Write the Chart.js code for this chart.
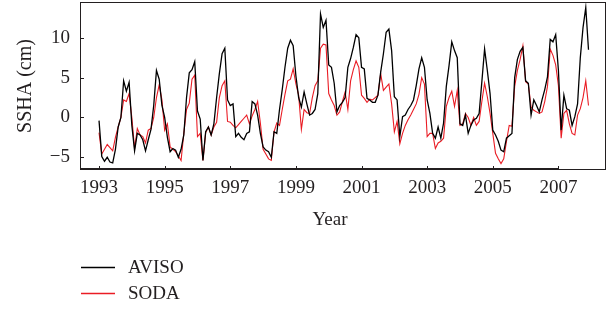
<!DOCTYPE html>
<html>
<head>
<meta charset="utf-8">
<script src="https://cdn.jsdelivr.net/npm/chart.js@4.4.0/dist/chart.umd.min.js"></script>
<style>
html,body{margin:0;padding:0;background:#fff;}
canvas{display:block;}
</style>
</head>
<body>
<canvas id="c" width="612" height="311"></canvas>
<script>
// ---- data (monthly, Jan 1993 .. Dec 2007) ----
const startYear = 1993;
const monthsPerYear = 12;
const seriesNames = ['AVISO', 'SODA'];
const aviso = [
  -0.4, -4.9, -5.5, -5.0, -5.6, -5.7, -4.0, -1.2, 0.0, 4.6, 3.3, 4.4,
  -1.0, -4.2, -2.0, -2.2, -2.8, -4.2, -2.8, -1.5, 1.5, 5.9, 4.8, 1.5,
  0.0, -2.5, -4.3, -3.9, -4.1, -5.0, -4.0, -2.2, 2.5, 5.6, 6.0, 7.0,
  0.8, -0.2, -5.4, -1.8, -1.2, -2.2, -0.8, 2.5, 5.5, 8.0, 8.7, 2.2,
  1.5, 1.7, -2.4, -2.0, -2.5, -2.8, -2.0, -1.8, 2.0, 1.7, 0.3, -2.0,
  -3.7, -4.1, -4.3, -5.0, -1.8, -2.0, 1.0, 3.5, 6.3, 8.7, 9.7, 9.0,
  5.2, 2.5, 1.3, 3.2, 1.7, 0.3, 0.5, 1.0, 3.0, 13.0, 11.3, 12.2,
  6.6, 6.3, 4.3, 0.7, 1.5, 1.9, 2.5, 6.3, 7.4, 8.8, 10.4, 10.0,
  6.3, 6.1, 2.4, 2.2, 1.9, 1.9, 2.8, 5.7, 8.0, 10.7, 11.1, 8.4,
  2.6, 2.2, -2.4, 0.1, 0.3, 1.0, 1.5, 2.2, 4.0, 6.1, 7.5, 6.3,
  2.2, 0.5, -2.0, -2.6, -1.2, -2.6, -0.7, 3.9, 6.5, 9.5, 8.4, 7.5,
  -0.8, -1.0, 0.3, -2.0, -1.0, -0.3, -0.1, 0.5, 4.5, 8.6, 5.9, 3.0,
  -1.6, -2.2, -3.0, -4.1, -4.3, -2.6, -2.3, -2.0, 5.0, 7.3, 8.3, 8.8,
  4.6, 4.3, 0.3, 2.2, 1.5, 0.7, 2.2, 3.5, 5.1, 9.8, 9.5, 10.4,
  5.9, -1.6, 2.8, 1.1, 0.9, -1.0, 0.1, 1.7, 7.5, 11.3, 13.8, 8.5
];
const soda = [
  -1.9, -4.6, -4.0, -3.4, -3.8, -4.2, -2.5, -1.2, 0.0, 2.2, 2.0, 3.0,
  0.0, -3.9, -1.4, -2.2, -2.4, -3.2, -1.6, -1.4, 0.0, 2.5, 4.1, 2.2,
  -1.6, -0.8, -3.7, -4.0, -4.3, -4.8, -5.4, -2.0, 1.0, 1.8, 4.8, 5.3,
  -2.4, -2.0, -5.4, -1.9, -1.2, -2.2, -1.2, -0.6, 2.5, 4.0, 4.6, -0.5,
  -0.6, -1.0, -1.3, -0.9, -0.5, -0.1, 0.3, -0.8, 0.2, 1.0, 2.0, -0.7,
  -4.0, -4.6, -5.2, -5.4, -1.8, -0.7, -1.0, 1.0, 2.9, 4.6, 4.8, 6.1,
  4.2, 2.8, -1.5, 1.0, 0.6, 0.5, 2.5, 4.0, 4.6, 8.7, 9.2, 9.1,
  3.0, 2.2, 1.5, 0.3, 0.7, 2.0, 3.2, 1.0, 4.6, 6.0, 7.1, 6.3,
  2.8, 2.4, 1.9, 2.3, 2.2, 2.5, 2.8, 5.5, 3.4, 3.8, 4.2, 1.7,
  -1.8, -0.5, -3.3, -2.0, -1.0, -0.3, 0.3, 1.0, 1.7, 2.9, 5.0, 4.2,
  -2.4, -2.0, -2.0, -3.9, -3.2, -3.0, -2.6, 1.4, 2.5, 3.3, 1.4, 3.4,
  -1.0, -0.8, 0.5, 0.0, -1.0, 0.0, -1.0, -0.5, 2.0, 4.3, 2.6, 0.5,
  -2.0, -4.5, -5.2, -5.8, -5.2, -3.0, -1.0, -1.1, 3.9, 5.9, 7.3, 9.0,
  4.5, 4.2, 1.3, 0.9, 0.7, 0.5, 0.7, 2.0, 3.9, 8.6, 7.8, 6.6,
  4.0, -2.6, 0.5, 0.9, -0.8, -2.0, -2.2, 0.3, 1.1, 2.5, 4.6, 1.5
];
const xTickYears = [1993, 1995, 1997, 1999, 2001, 2003, 2005, 2007];
const yTickValues = [-5, 0, 5, 10];
const xAxisTitle = 'Year';
const yAxisTitle = 'SSHA (cm)';

const toPoints = vals => vals.map((v, i) => ({ x: startYear + i / monthsPerYear, y: v }));

const FONT = '"Liberation Serif", "DejaVu Serif", serif';
const TEXT = '#231f20';

const decor = {
  id: 'decor',
  afterDraw(chart) {
    const { ctx, chartArea: a, scales: { x, y } } = chart;
    ctx.save();
    ctx.strokeStyle = TEXT;
    ctx.lineWidth = 1;
    ctx.strokeRect(a.left + 0.5, a.top + 0.5, a.right - a.left - 1, a.bottom - a.top - 1);
    // heavier axis line up to last tick
    const lastX = x.getPixelForValue(xTickYears[xTickYears.length - 1]);
    ctx.lineWidth = 2;
    ctx.beginPath(); ctx.moveTo(a.left, a.bottom - 1); ctx.lineTo(lastX, a.bottom - 1); ctx.stroke();
    // inward tick marks
    ctx.lineWidth = 1;
    yTickValues.forEach(v => {
      const py = Math.round(y.getPixelForValue(v)) + 0.5;
      ctx.beginPath(); ctx.moveTo(a.left, py); ctx.lineTo(a.left + 4, py); ctx.stroke();
    });
    xTickYears.forEach(v => {
      const px = Math.round(x.getPixelForValue(v)) + 0.5;
      ctx.beginPath(); ctx.moveTo(px, a.bottom); ctx.lineTo(px, a.bottom - 4); ctx.stroke();
    });
    // x-axis title
    ctx.fillStyle = TEXT;
    ctx.font = '19px ' + FONT;
    ctx.textAlign = 'center';
    ctx.textBaseline = 'middle';
    ctx.fillText(xAxisTitle, 330, 220);
    // legend (vertical)
    chart.data.datasets.forEach((ds, i) => {
      const ly = 267 + i * 26;
      ctx.strokeStyle = ds.borderColor;
      ctx.lineWidth = 1.3;
      ctx.beginPath(); ctx.moveTo(81, ly + 0.5); ctx.lineTo(115, ly + 0.5); ctx.stroke();
      ctx.textAlign = 'left';
      ctx.fillText(ds.label, 128, ly + 1);
    });
    ctx.restore();
  }
};

new Chart(document.getElementById('c'), {
  type: 'line',
  data: {
    datasets: [
      { label: seriesNames[0], data: toPoints(aviso), borderColor: '#000000', borderWidth: 1.3,
        pointRadius: 0, tension: 0, fill: false },
      { label: seriesNames[1], data: toPoints(soda), borderColor: '#ea1c24', borderWidth: 1.1,
        pointRadius: 0, tension: 0, fill: false }
    ]
  },
  options: {
    responsive: false,
    animation: false,
    devicePixelRatio: 1,
    layout: { autoPadding: false, padding: { left: 0, right: 6, top: 2, bottom: 0 } },
    plugins: { legend: { display: false }, tooltip: { enabled: false } },
    scales: {
      x: {
        type: 'linear',
        min: 1992.42,
        max: 2008.45,
        afterFit: s => { s.height = 141; s.paddingLeft = 0; s.paddingRight = 0; s.paddingTop = 0; s.paddingBottom = 0; },
        afterBuildTicks: s => { s.ticks = xTickYears.map(v => ({ value: v })); },
        grid: { display: false, drawTicks: false },
        border: { display: false },
        ticks: { padding: 7, color: TEXT, font: { family: FONT, size: 19 }, maxRotation: 0,
                 callback: v => String(v) }
      },
      y: {
        type: 'linear',
        min: -6.6,
        max: 14.5,
        afterFit: s => { s.width = 80; s.paddingLeft = 0; s.paddingRight = 0; s.paddingTop = 0; s.paddingBottom = 0; },
        afterBuildTicks: s => { s.ticks = yTickValues.map(v => ({ value: v })); },
        grid: { display: false, drawTicks: false },
        border: { display: false },
        ticks: { padding: 10, color: TEXT, font: { family: FONT, size: 19 },
                 callback: v => (v < 0 ? '\u2212' + Math.abs(v) : String(v)) },
        title: { display: true, text: yAxisTitle, color: TEXT, font: { family: FONT, size: 20 },
                 padding: { top: 14, bottom: 0 } }
      }
    }
  },
  plugins: [decor]
});
</script>
</body>
</html>
